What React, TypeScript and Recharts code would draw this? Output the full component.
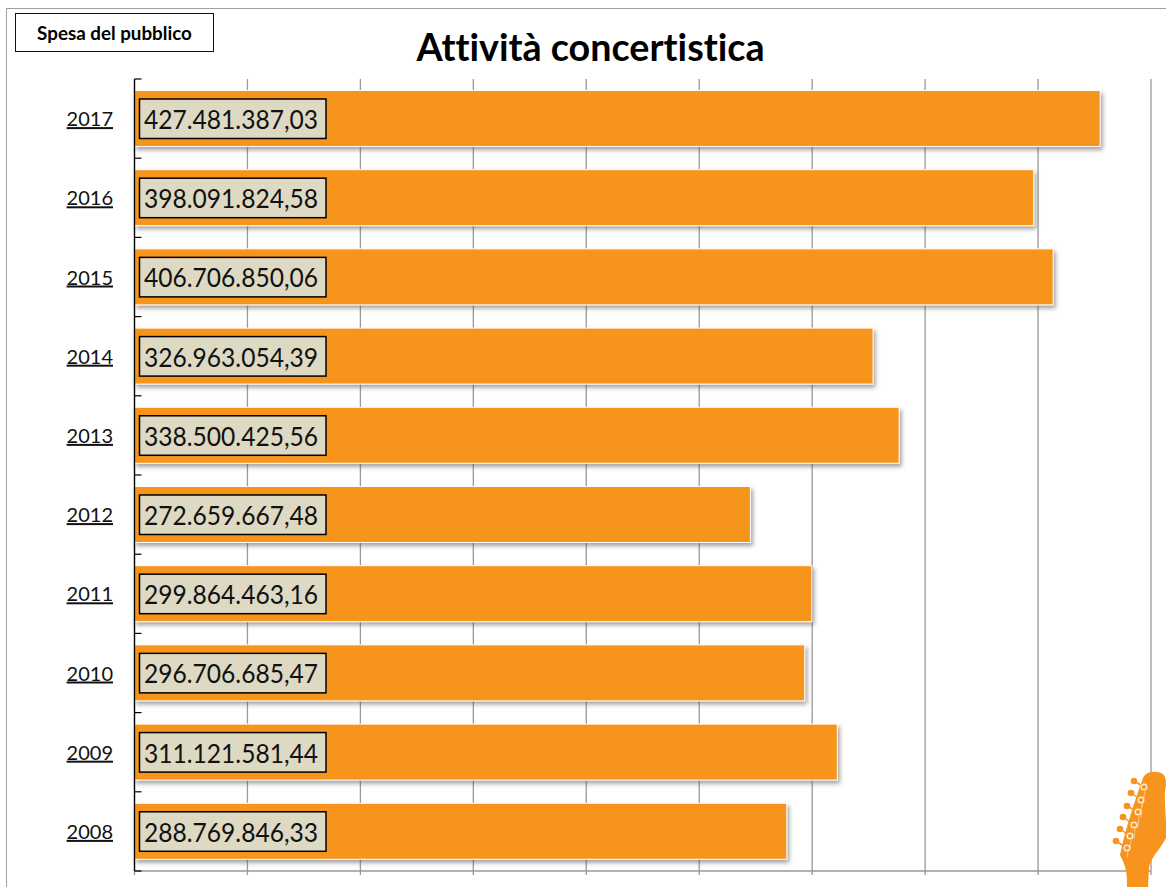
import React from "react";
import { BarChart, Bar, XAxis, YAxis, CartesianGrid, LabelList } from "recharts";

const years = ["2017", "2016", "2015", "2014", "2013", "2012", "2011", "2010", "2009", "2008"];
const spesa = [427481387.03, 398091824.58, 406706850.06, 326963054.39, 338500425.56, 272659667.48, 299864463.16, 296706685.47, 311121581.44, 288769846.33];
const spesaLabels = ["427.481.387,03", "398.091.824,58", "406.706.850,06", "326.963.054,39", "338.500.425,56", "272.659.667,48", "299.864.463,16", "296.706.685,47", "311.121.581,44", "288.769.846,33"];
const xTicks = [0, 50000000, 100000000, 150000000, 200000000, 250000000, 300000000, 350000000, 400000000, 450000000];
const title = "Attività concertistica";
const subtitle = "Spesa del pubblico";

const data = years.map((year, i) => ({ year, spesa: spesa[i], label: spesaLabels[i] }));

const ORANGE = "#F7941E";
const BAND = 79.2;

const YearTick = (props: any) => {
  const { x, y, payload, index } = props;
  return (
    <g>
      <line x1={x + 8} x2={x + 15} y1={y - BAND / 2} y2={y - BAND / 2} stroke="#000" strokeWidth={1.2} />
      {index === years.length - 1 ? (
        <line x1={x + 8} x2={x + 15} y1={y + BAND / 2} y2={y + BAND / 2} stroke="#000" strokeWidth={1.2} />
      ) : null}
      <text x={x - 13.5} y={y + 7.5} textAnchor="end" fontFamily="Lato, sans-serif" fontSize={20} fill="#111" textDecoration="underline">
        {payload.value}
      </text>
    </g>
  );
};

const BarShape = (props: any) => {
  const { x, y, width, height } = props;
  return <rect x={x} y={y} width={width} height={height} fill={ORANGE} stroke="#fff" strokeWidth={1} filter="url(#barShadow)" />;
};

const ValueBox = (props: any) => {
  const { x, y, height, value } = props;
  return (
    <g>
      <rect x={x + 5} y={y + height / 2 - 19.5} width={186.5} height={39.5} fill="#DDD9C3" stroke="#000" strokeWidth={1.5} />
      <text
        x={x + 9.5}
        y={y + height / 2 + 10.5}
        fontFamily="Lato, sans-serif"
        fontSize={26.5}
        fill="#111"
        textLength={174}
        lengthAdjust="spacingAndGlyphs"
      >
        {value}
      </text>
    </g>
  );
};

const EmptyTick = () => <g />;

const pegs = [[1144, 787], [1141, 800], [1138, 812], [1134, 825], [1130, 836], [1127, 848]];
const knobs = [[1134, 781], [1131, 793], [1127, 806], [1123, 817], [1120, 829], [1116, 841]];

const Guitar = () => (
  <svg width={1166} height={887} style={{ position: "absolute", left: 0, top: 0, pointerEvents: "none" }}>
    {pegs.map((p, i) => (
      <line key={i} x1={p[0]} y1={p[1]} x2={knobs[i][0]} y2={knobs[i][1]} stroke={ORANGE} strokeWidth={1.5} />
    ))}
    {knobs.map((p, i) => (
      <circle key={i} cx={p[0]} cy={p[1]} r={3.3} fill={ORANGE} />
    ))}
    <path
      d="M1127 887 C1127 875 1127 868 1120 855 C1125 830 1135 800 1143 778 C1146 771 1156 770 1163 774 C1166 777 1166 782 1166 785 C1163 800 1167 815 1166 838 C1160 850 1150 858 1149 868 L1148 887 Z"
      fill={ORANGE}
    />
    {pegs.map((p, i) => (
      <g key={i}>
        <circle cx={p[0]} cy={p[1]} r={2.8} fill={ORANGE} stroke="#FDEBD3" strokeWidth={1.4} />
        <line x1={p[0] + 1} y1={p[1] + 4} x2={p[0] + 1 - (i === 0 ? 3 : 1)} y2={p[1] + 20 - i * 2} stroke="#FBD3A0" strokeWidth={0.8} />
      </g>
    ))}
  </svg>
);

export default function App() {
  return (
    <div style={{ position: "fixed", left: 0, top: 0, width: 1166, height: 887, overflow: "hidden", background: "#fff" }}>
      <div style={{ position: "absolute", left: 6, top: 7.5, width: 1300, height: 1000, border: "1.5px solid #a0a0a0", boxSizing: "border-box" }} />
      <BarChart
        width={1166}
        height={887}
        data={data}
        layout="vertical"
        margin={{ top: 79, right: 15, bottom: 0, left: 0 }}
        barCategoryGap="14.5%"
        style={{ position: "absolute", left: 0, top: 0 }}
      >
        <defs>
          <filter id="barShadow" x="-2%" y="-10%" width="104%" height="125%">
            <feDropShadow dx={2} dy={3} stdDeviation={2} floodColor="#555" floodOpacity={0.55} />
          </filter>
        </defs>
        <CartesianGrid horizontal={false} stroke="#999" strokeWidth={1.3} />
        <XAxis
          type="number"
          domain={[0, 450000000]}
          ticks={xTicks}
          height={16}
          tick={EmptyTick as any}
          tickSize={4}
          tickLine={{ stroke: "#999", strokeWidth: 1.3 }}
          axisLine={{ stroke: "#999", strokeWidth: 1.3 }}
        />
        <YAxis
          type="category"
          dataKey="year"
          width={134.5}
          tickLine={false}
          tick={YearTick as any}
          interval={0}
          axisLine={{ stroke: "#000", strokeWidth: 1.3 }}
        />
        <Bar dataKey="spesa" shape={BarShape as any} isAnimationActive={false}>
          <LabelList dataKey="label" content={ValueBox as any} />
        </Bar>
      </BarChart>
      <Guitar />
      <div
        style={{
          position: "absolute", left: 15, top: 13, width: 199, height: 39, boxSizing: "border-box",
          border: "1.5px solid #111", background: "#fff", display: "flex", alignItems: "center", justifyContent: "center",
          fontFamily: "Lato, sans-serif", fontWeight: 700, fontSize: 18.8, color: "#000", fontVariantLigatures: "none",
        }}
      >
        {subtitle}
      </div>
      <div
        style={{
          position: "absolute", left: 290.5, top: 22, width: 600, textAlign: "center",
          fontFamily: "Lato, sans-serif", fontWeight: 700, fontSize: 37.7, lineHeight: "50px", color: "#000", fontVariantLigatures: "none",
        }}
      >
        {title}
      </div>
    </div>
  );
}
